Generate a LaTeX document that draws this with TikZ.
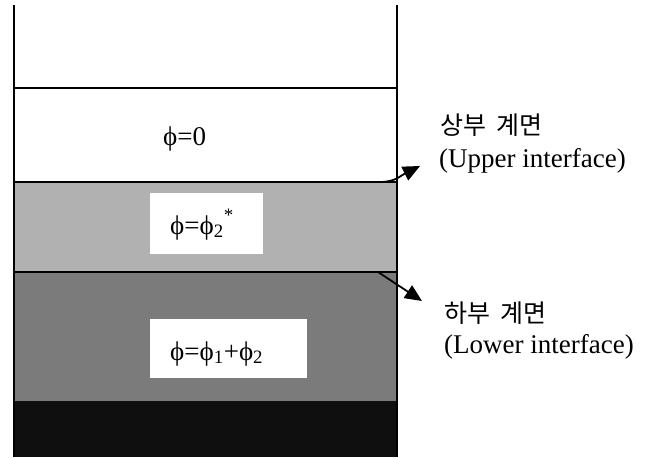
\documentclass[tikz,border=0pt]{standalone}
\usepackage{fontspec}
\setmainfont{Liberation Serif}
\newfontfamily\krfont{Noto Sans CJK KR}
\usetikzlibrary{arrows.meta}
\definecolor{lightlayer}{HTML}{B1B1B1}
\definecolor{darklayer}{HTML}{7B7B7B}
\definecolor{baselayer}{HTML}{0F0F0F}
\begin{document}
\begin{tikzpicture}[x=1pt,y=-1pt,
  wall/.style={line width=2pt,black},
  iface/.style={line width=2pt,black},
  valuebox/.style={fill=white,draw=none,inner sep=0pt},
  eqtext/.style={anchor=base west,inner sep=0pt,font=\fontsize{27}{30}\selectfont},
  kolabel/.style={anchor=base west,inner sep=0pt,font=\krfont\fontsize{25}{28}\selectfont},
  enlabel/.style={anchor=base west,inner sep=0pt,font=\fontsize{27}{30}\selectfont},
  pointer/.style={line width=1.8pt,-{Triangle[length=17pt,width=15pt]}}]
\useasboundingbox (0,0) rectangle (654,458);
% layers of the container
\fill[lightlayer] (14,182) rectangle (397,272);
\fill[darklayer] (14,272) rectangle (397,401);
\fill[baselayer] (14,401) rectangle (397,457);
% interfaces
\draw[line width=1.5pt] (14,88) -- (397,88);
\draw[iface] (14,182) -- (397,182);
\draw[iface] (14,272) -- (397,272);
% walls
\draw[wall] (14,5) -- (14,457);
\draw[wall] (397,5) -- (397,457);
% value boxes
\fill[valuebox] (150,193) rectangle (263,254);
\fill[valuebox] (150,319) rectangle (307,378);
\node[eqtext] (phi0) at (163,145) {ϕ=0};
\node[eqtext] (phi2) at (170,234) {ϕ=ϕ\textsubscript{2}\raisebox{0.3ex}{\textsuperscript{*}}};
\node[eqtext] (phisum) at (170,360) {ϕ=ϕ\textsubscript{1}+ϕ\textsubscript{2}};
% interface labels
\node[kolabel] (upko) at (440,134) {상부\hspace{10pt}계면};
\node[enlabel] (upen) at (439,167) {(Upper interface)};
\node[kolabel] (lowko) at (444,322) {하부\hspace{10pt}계면};
\node[enlabel] (lowen) at (444,353) {(Lower interface)};
% pointers
\coordinate (upstart) at (380,182);
\coordinate (uptip) at (420,166);
\coordinate (lowstart) at (378,272);
\coordinate (lowtip) at (422,301);
\draw[pointer] (upstart) .. controls (395,182) and (400,176) .. (uptip);
\draw[pointer] (lowstart) -- (lowtip);
\end{tikzpicture}
\end{document}
